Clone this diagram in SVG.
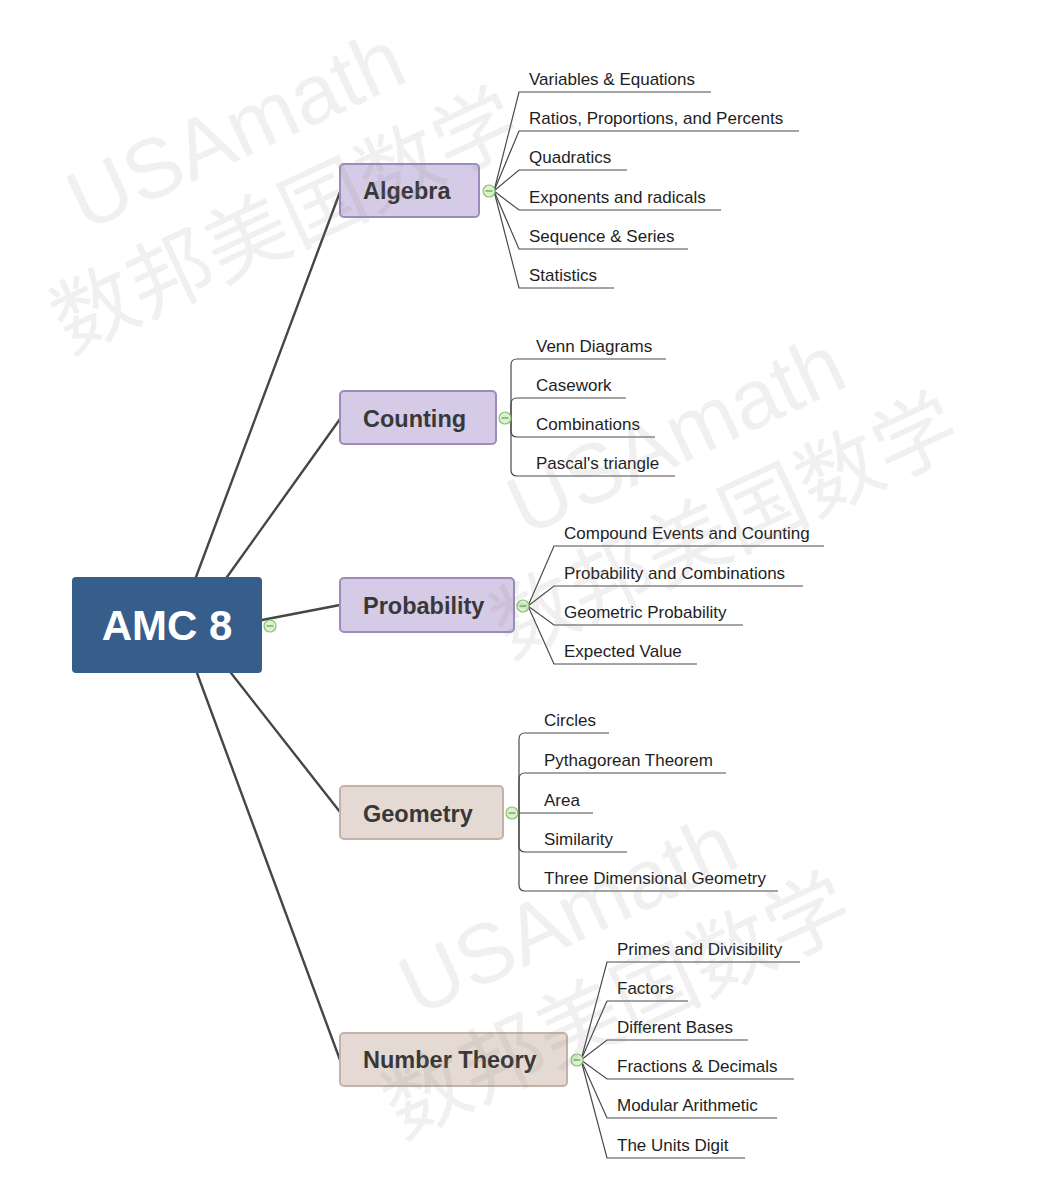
<svg xmlns="http://www.w3.org/2000/svg" width="1056" height="1196" viewBox="0 0 1056 1196">
<defs>
<style>
.main{stroke:#464646;stroke-width:2.4;fill:none;stroke-linecap:round}
.sub{stroke:#4a4a4a;stroke-width:1.2;fill:none}
.purple{fill:#d5cbe6;stroke:#9c8cbc;stroke-width:2}
.beige{fill:#e4d9d3;stroke:#c4b2a9;stroke-width:2}
.ntxt{font-family:"Liberation Sans",Arial,sans-serif;font-weight:bold;font-size:23.5px;fill:#383838}
.ctxt{font-family:"Liberation Sans",Arial,sans-serif;font-size:17px;fill:#1e1e1e}
.tog circle{fill:#dcf1cf;stroke:#86c275;stroke-width:1.2}
.tog line{stroke:#5f9e50;stroke-width:1.2}
.wm{font-size:84px;fill:#8a8a8a;fill-opacity:0.13}
.wm1{font-family:"Liberation Sans",Arial,sans-serif}
.wm2{font-family:"Noto Sans CJK SC",sans-serif}
</style>
<g id="toggle" class="tog"><circle cx="0" cy="0" r="6"/><line x1="-3.5" y1="0" x2="3.5" y2="0"/></g>
</defs>
<rect width="1056" height="1196" fill="#ffffff"/>

<g id="connectors">
<line class="main" x1="196" y1="577" x2="340" y2="192"/>
<line class="main" x1="227" y1="577" x2="340" y2="419"/>
<line class="main" x1="262" y1="620" x2="340" y2="605"/>
<line class="main" x1="231" y1="673" x2="340" y2="812"/>
<line class="main" x1="197" y1="673" x2="340" y2="1060"/>

<!-- Algebra -->
<path class="sub" d="M494,191 L519,92 H711"/>
<path class="sub" d="M494,191 L519,131 H799"/>
<path class="sub" d="M494,191 L519,170 H627"/>
<path class="sub" d="M494,191 L519,210 H721"/>
<path class="sub" d="M494,191 L519,249 H688"/>
<path class="sub" d="M494,191 L519,288 H614"/>

<!-- Counting -->
<path class="sub" d="M505,418 H511 V365 Q511,359 517,359 H666"/>
<path class="sub" d="M511,418 V404 Q511,398 517,398 H626"/>
<path class="sub" d="M511,418 V431 Q511,437 517,437 H655"/>
<path class="sub" d="M511,418 V470 Q511,476 517,476 H675"/>

<!-- Probability -->
<path class="sub" d="M528,606 L554,546 H824"/>
<path class="sub" d="M528,606 L554,586 H803"/>
<path class="sub" d="M528,606 L554,625 H743"/>
<path class="sub" d="M528,606 L554,664 H697"/>

<!-- Geometry -->
<path class="sub" d="M512,813 H519 V739 Q519,733 525,733 H609"/>
<path class="sub" d="M519,813 V779 Q519,773 525,773 H726"/>
<path class="sub" d="M512,813 H593"/>
<path class="sub" d="M519,813 V846 Q519,852 525,852 H627"/>
<path class="sub" d="M519,813 V885 Q519,891 525,891 H778"/>

<!-- Number Theory -->
<path class="sub" d="M581,1060 L607,962 H800"/>
<path class="sub" d="M581,1060 L607,1001 H688"/>
<path class="sub" d="M581,1060 L607,1040 H748"/>
<path class="sub" d="M581,1060 L607,1079 H794"/>
<path class="sub" d="M581,1060 L607,1118 H777"/>
<path class="sub" d="M581,1060 L607,1158 H745"/>
</g>

<g id="root">
<rect x="72" y="577" width="190" height="96" rx="4" fill="#375e8b"/>
<text x="167" y="640" text-anchor="middle" font-family="'Liberation Sans',Arial,sans-serif" font-weight="bold" font-size="42" fill="#ffffff">AMC 8</text>
<use href="#toggle" x="270" y="626"/>
</g>

<g id="algebra">
<rect class="purple" x="340" y="164" width="139" height="53" rx="4"/>
<text class="ntxt" x="363" y="199">Algebra</text>
<use href="#toggle" x="489" y="191"/>
</g>
<g id="algebra-children">
<text class="ctxt" x="529" y="85">Variables &amp; Equations</text>
<text class="ctxt" x="529" y="124">Ratios, Proportions, and Percents</text>
<text class="ctxt" x="529" y="163">Quadratics</text>
<text class="ctxt" x="529" y="203">Exponents and radicals</text>
<text class="ctxt" x="529" y="242">Sequence &amp; Series</text>
<text class="ctxt" x="529" y="281">Statistics</text>
</g>

<g id="counting">
<rect class="purple" x="340" y="391" width="156" height="53" rx="4"/>
<text class="ntxt" x="363" y="427">Counting</text>
<use href="#toggle" x="505" y="418"/>
</g>
<g id="counting-children">
<text class="ctxt" x="536" y="352">Venn Diagrams</text>
<text class="ctxt" x="536" y="391">Casework</text>
<text class="ctxt" x="536" y="430">Combinations</text>
<text class="ctxt" x="536" y="469">Pascal's triangle</text>
</g>

<g id="probability">
<rect class="purple" x="340" y="578" width="174" height="54" rx="4"/>
<text class="ntxt" x="363" y="614">Probability</text>
<use href="#toggle" x="523" y="606"/>
</g>
<g id="probability-children">
<text class="ctxt" x="564" y="539">Compound Events and Counting</text>
<text class="ctxt" x="564" y="579">Probability and Combinations</text>
<text class="ctxt" x="564" y="618">Geometric Probability</text>
<text class="ctxt" x="564" y="657">Expected Value</text>
</g>

<g id="geometry">
<rect class="beige" x="340" y="786" width="163" height="53" rx="4"/>
<text class="ntxt" x="363" y="822">Geometry</text>
<use href="#toggle" x="512" y="813"/>
</g>
<g id="geometry-children">
<text class="ctxt" x="544" y="726">Circles</text>
<text class="ctxt" x="544" y="766">Pythagorean Theorem</text>
<text class="ctxt" x="544" y="806">Area</text>
<text class="ctxt" x="544" y="845">Similarity</text>
<text class="ctxt" x="544" y="884">Three Dimensional Geometry</text>
</g>

<g id="number-theory">
<rect class="beige" x="340" y="1033" width="227" height="53" rx="4"/>
<text class="ntxt" x="363" y="1068">Number Theory</text>
<use href="#toggle" x="577" y="1060"/>
</g>
<g id="number-theory-children">
<text class="ctxt" x="617" y="955">Primes and Divisibility</text>
<text class="ctxt" x="617" y="994">Factors</text>
<text class="ctxt" x="617" y="1033">Different Bases</text>
<text class="ctxt" x="617" y="1072">Fractions &amp; Decimals</text>
<text class="ctxt" x="617" y="1111">Modular Arithmetic</text>
<text class="ctxt" x="617" y="1151">The Units Digit</text>
</g>

<g id="watermarks">
<g transform="translate(85,232) rotate(-25)">
<text class="wm wm1" x="0" y="0">USAmath</text>
<text class="wm wm2" x="-66" y="104">数邦美国数学</text>
</g>
<g transform="translate(525,537) rotate(-25)">
<text class="wm wm1" x="0" y="0">USAmath</text>
<text class="wm wm2" x="-66" y="104">数邦美国数学</text>
</g>
<g transform="translate(417,1017) rotate(-25)">
<text class="wm wm1" x="0" y="0">USAmath</text>
<text class="wm wm2" x="-66" y="104">数邦美国数学</text>
</g>
</g>
</svg>
